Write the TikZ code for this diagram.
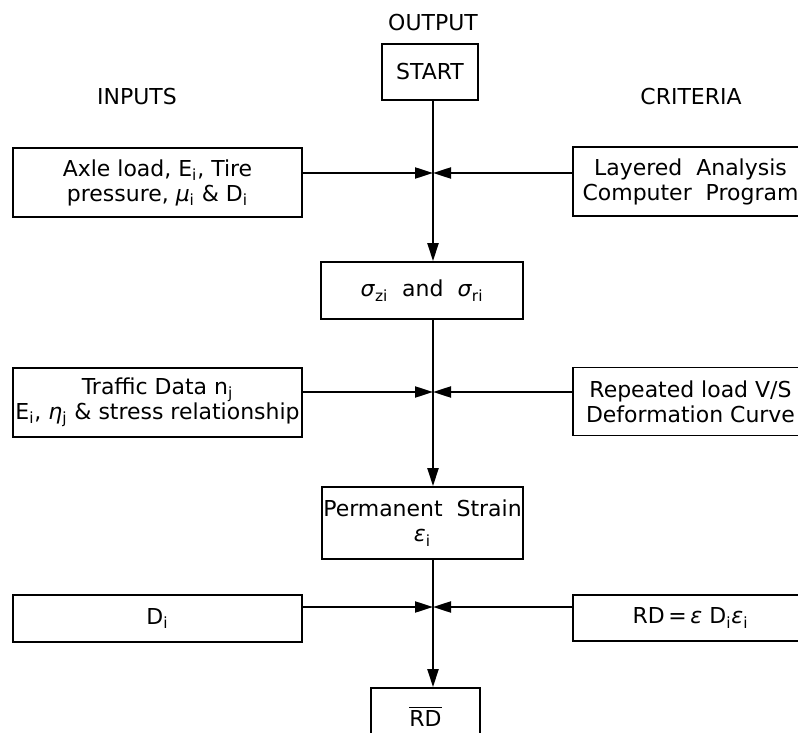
\documentclass[tikz,border=0pt]{standalone}
\usepackage{fontspec}
\setmainfont{DejaVu Sans}
\usepackage{tikz}
\usetikzlibrary{arrows.meta,positioning,calc}
\newcommand{\boxFont}{\fontsize{12.5}{14.2}\selectfont}
\newcommand{\gr}[1]{\textit{#1}}
\tikzset{
  inputBox/.style={
    rectangle,
    draw=black,
    line width=1pt,
    minimum width=5.78cm,
    minimum height=1.38cm,
    inner sep=0pt,
    align=center,
    font=\boxFont
  },
  criteriaBox/.style={
    inputBox,
    minimum width=4.7cm
  },
  outputBox/.style={
    rectangle,
    draw=black,
    line width=1pt,
    inner sep=0pt,
    align=center,
    font=\boxFont
  },
  headLabel/.style={
    font=\boxFont
  },
  arrowLine/.style={
    -{Triangle[length=3.6mm,width=2.2mm]},
    line width=1.2pt
  }
}

\begin{document}
\begin{tikzpicture}[x=0.02cm,y=-0.02cm]
        \useasboundingbox (0,0) rectangle (798,733);

        % column headings
        \node[headLabel] (outlabel) at (433,23) {OUTPUT};
        \node[headLabel] (inlabel) at (137,97) {INPUTS};
        \node[headLabel] (critlabel) at (691,97) {CRITERIA};

        % output column
        \node[outputBox, minimum width=1.92cm, minimum height=1.12cm] (start) at (430,72) {START};
        \node[outputBox, minimum width=4.04cm, minimum height=1.14cm] (stress) at (422,290.5)
            {\gr{σ}\textsubscript{zi}~~and~~\gr{σ}\textsubscript{ri}};
        \node[outputBox, minimum width=4.02cm, minimum height=1.44cm] (strain) at (422.5,523)
            {Permanent~~Strain\\\gr{ε}\textsubscript{i}};
        \node[outputBox, minimum width=2.18cm, minimum height=1.14cm] (rutdepth) at (425.5,716.5)
            {$\overline{\mbox{RD}}$};

        % inputs
        \node[inputBox] (axle) at (157.5,182.5) {Axle load, E\textsubscript{i}, Tire\\pressure, \gr{μ}\textsubscript{i} \& D\textsubscript{i}};
        \node[inputBox] (traffic) at (157.5,402.5) {Traffic Data n\textsubscript{j}\\E\textsubscript{i}, \gr{η}\textsubscript{j} \& stress relationship};
        \node[inputBox, minimum height=0.94cm] (depth) at (157.5,618.5) {D\textsubscript{i}};

        % criteria
        \node[criteriaBox] (layered) at (690.5,181.5) {Layered~~Analysis\\Computer~~Program};
        \node[criteriaBox, minimum height=1.36cm] (repeated) at (690.5,401.5) {Repeated load V/S\\Deformation Curve};
        \node[criteriaBox, minimum height=0.92cm] (rdsum) at (690.5,618) {RD\,=\,\gr{ε} D\textsubscript{i}\gr{ε}\textsubscript{i}};

        % junctions on the main line
        \coordinate (j1) at (433,173);
        \coordinate (j2) at (433,392);
        \coordinate (j3) at (433,607);

        \draw[arrowLine] (start.south -| j1) -- (stress.north -| j1);
        \draw[arrowLine] (stress.south -| j2) -- (strain.north -| j2);
        \draw[arrowLine] (strain.south -| j3) -- (rutdepth.north -| j3);

        \draw[arrowLine] (axle.east |- j1) -- (j1);
        \draw[arrowLine] (layered.west |- j1) -- (j1);
        \draw[arrowLine] (traffic.east |- j2) -- (j2);
        \draw[arrowLine] (repeated.west |- j2) -- (j2);
        \draw[arrowLine] (depth.east |- j3) -- (j3);
        \draw[arrowLine] (rdsum.west |- j3) -- (j3);
    \end{tikzpicture}
\end{document}
